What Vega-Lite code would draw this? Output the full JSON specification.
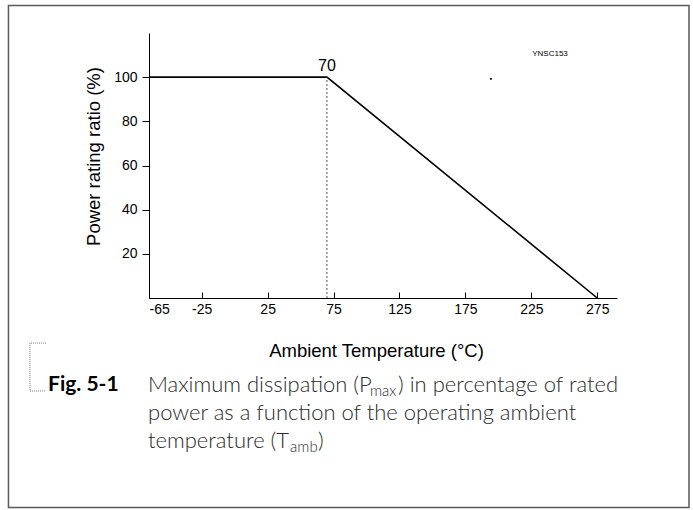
{
  "$schema": "https://vega.github.io/schema/vega-lite/v6.json",
  "width": 468,
  "height": 265,
  "autosize": {"type": "none"},
  "padding": {"left": 149, "top": 33, "right": 76, "bottom": 212},
  "background": "white",
  "config": {
    "view": {"stroke": null},
    "font": "Liberation Sans",
    "axis": {
      "grid": false,
      "domainColor": "#000000",
      "domainWidth": 1,
      "tickColor": "#000000",
      "tickWidth": 1,
      "labelColor": "#000000",
      "labelFont": "Liberation Sans",
      "labelFontSize": 14,
      "titleColor": "#000000",
      "titleFont": "Liberation Sans",
      "titleFontSize": 18.5,
      "titleFontWeight": "normal"
    }
  },
  "datasets": {
    "curve": [
      {"temp": -65, "ratio": 100},
      {"temp": 70, "ratio": 100},
      {"temp": 275, "ratio": 0}
    ],
    "knee": [
      {"temp": 70, "ratio": 100, "low": 0, "label": "70", "labelY": 105}
    ],
    "notes": [
      {"kind": "code", "x": 239.2, "y": 110.5, "text": "YNSC153"},
      {"kind": "cap", "x": -65.76, "y": -39.4, "text": "Maximum dissipation (P"},
      {"kind": "sub", "x": 102.6, "y": -42.1, "text": "max"},
      {"kind": "cap", "x": 123.9, "y": -39.4, "text": ") in percentage of rated"},
      {"kind": "cap", "x": -65.76, "y": -52.08, "text": "power as a function of the operating ambient"},
      {"kind": "cap", "x": -65.76, "y": -64.75, "text": "temperature (T"},
      {"kind": "sub", "x": 42.0, "y": -67.47, "text": "amb"},
      {"kind": "cap", "x": 63.2, "y": -64.75, "text": ")"},
      {"kind": "fig", "x": -141.6, "y": -39.4, "text": "Fig. 5-1"}
    ],
    "dot": [{"x": 194.4, "y": 99.2}],
    "bracket": [
      {"order": 1, "x": -143.1, "y": -20.4},
      {"order": 2, "x": -155.3, "y": -20.4},
      {"order": 3, "x": -155.3, "y": -42.1},
      {"order": 4, "x": -143.1, "y": -42.1}
    ],
    "frame": [{"x": -171.6, "x2": 344.6, "y": 132.45, "y2": -94.9}]
  },
  "layer": [
    {
      "data": {"name": "frame"},
      "mark": {"type": "rect", "fill": null, "fillOpacity": 0, "stroke": "#5a5a5a", "strokeWidth": 1.5, "clip": false},
      "encoding": {
        "x": {"field": "x", "type": "quantitative"},
        "x2": {"field": "x2"},
        "y": {"field": "y", "type": "quantitative"},
        "y2": {"field": "y2"}
      }
    },
    {
      "data": {"name": "curve"},
      "mark": {"type": "line", "color": "#000000", "strokeWidth": 1.6},
      "encoding": {
        "x": {
          "field": "temp",
          "type": "quantitative",
          "scale": {"domain": [-65, 290], "nice": false, "zero": false},
          "axis": {
            "title": "Ambient Temperature (°C)",
            "values": [-65, -25, 25, 75, 125, 175, 225, 275],
            "labelExpr": "replace(datum.label, '\u2212', '-')",
            "tickSize": -6,
            "labelPadding": 10,
            "titleX": 227,
            "titleY": 52,
            "titleBaseline": "middle",
            "titleAlign": "center"
          }
        },
        "y": {
          "field": "ratio",
          "type": "quantitative",
          "scale": {"domain": [0, 120], "nice": false},
          "axis": {
            "title": "Power rating ratio (%)",
            "values": [20, 40, 60, 80, 100],
            "tickSize": 7,
            "labelPadding": 5,
            "titleX": -56,
            "titleY": 123,
            "titleAlign": "center",
            "titleBaseline": "middle"
          }
        }
      }
    },
    {
      "data": {"name": "knee"},
      "mark": {"type": "rule", "color": "#555555", "strokeWidth": 1, "strokeDash": [2, 2]},
      "encoding": {
        "x": {"field": "temp", "type": "quantitative"},
        "y": {"field": "low", "type": "quantitative"},
        "y2": {"field": "ratio"}
      }
    },
    {
      "data": {"name": "knee"},
      "mark": {"type": "text", "font": "Liberation Sans", "fontSize": 16, "color": "#000000", "align": "center", "baseline": "middle"},
      "encoding": {
        "x": {"field": "temp", "type": "quantitative"},
        "y": {"field": "labelY", "type": "quantitative"},
        "text": {"field": "label"}
      }
    },
    {
      "data": {"name": "dot"},
      "mark": {"type": "square", "size": 3, "color": "#000000", "opacity": 1},
      "encoding": {
        "x": {"field": "x", "type": "quantitative"},
        "y": {"field": "y", "type": "quantitative"}
      }
    },
    {
      "data": {"name": "notes"},
      "transform": [{"filter": "datum.kind == 'code'"}],
      "mark": {"type": "text", "font": "Liberation Sans", "fontSize": 8, "color": "#000000", "align": "center", "baseline": "middle"},
      "encoding": {
        "x": {"field": "x", "type": "quantitative"},
        "y": {"field": "y", "type": "quantitative"},
        "text": {"field": "text"}
      }
    },
    {
      "data": {"name": "notes"},
      "transform": [{"filter": "datum.kind == 'cap'"}],
      "mark": {"type": "text", "font": "Lato", "fontWeight": 300, "fontSize": 22, "color": "#2b2b2b", "align": "left", "baseline": "middle", "clip": false},
      "encoding": {
        "x": {"field": "x", "type": "quantitative"},
        "y": {"field": "y", "type": "quantitative"},
        "text": {"field": "text"}
      }
    },
    {
      "data": {"name": "notes"},
      "transform": [{"filter": "datum.kind == 'sub'"}],
      "mark": {"type": "text", "font": "Lato", "fontWeight": 300, "fontSize": 15, "color": "#2b2b2b", "align": "left", "baseline": "middle", "clip": false},
      "encoding": {
        "x": {"field": "x", "type": "quantitative"},
        "y": {"field": "y", "type": "quantitative"},
        "text": {"field": "text"}
      }
    },
    {
      "data": {"name": "notes"},
      "transform": [{"filter": "datum.kind == 'fig'"}],
      "mark": {"type": "text", "font": "Lato", "fontWeight": "bold", "fontSize": 21, "color": "#000000", "align": "left", "baseline": "middle", "clip": false},
      "encoding": {
        "x": {"field": "x", "type": "quantitative"},
        "y": {"field": "y", "type": "quantitative"},
        "text": {"field": "text"}
      }
    },
    {
      "data": {"name": "bracket"},
      "mark": {"type": "line", "color": "#777777", "strokeWidth": 1, "strokeDash": [1, 1], "clip": false},
      "encoding": {
        "x": {"field": "x", "type": "quantitative"},
        "y": {"field": "y", "type": "quantitative"},
        "order": {"field": "order"}
      }
    }
  ]
}
